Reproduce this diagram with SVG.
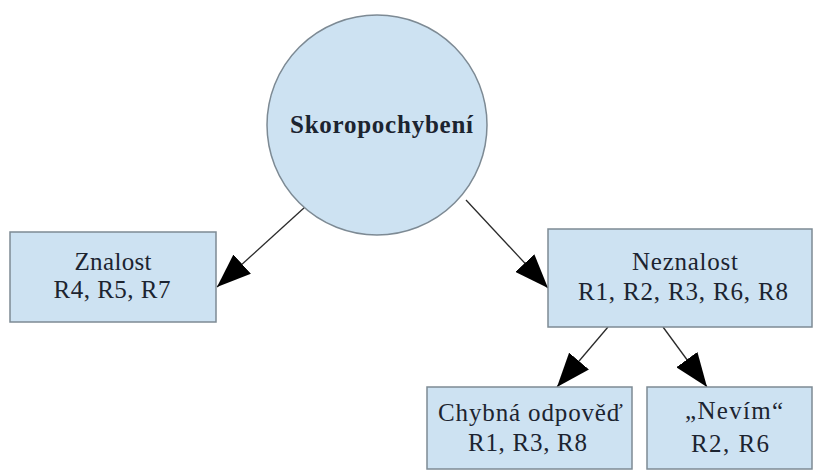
<svg xmlns="http://www.w3.org/2000/svg" width="814" height="471" viewBox="0 0 814 471">
  <style>
    .node { fill: #cde2f2; stroke: #7d8a94; stroke-width: 1.5; }
    .t { font-family: "Liberation Serif", "DejaVu Serif", "Times New Roman", serif; font-size: 25px; fill: #1c2430; text-anchor: middle; }
    .title { font-weight: bold; font-size: 25px; }
    .edge { stroke: #2a2a2a; stroke-width: 1.3; fill: none; marker-end: url(#arrow); }
  </style>
  <defs>
    <marker id="arrow" viewBox="0 0 34 26" refX="34" refY="13" markerWidth="34" markerHeight="26" markerUnits="userSpaceOnUse" orient="auto">
      <path d="M0,0 L34,13 L0,26 z" fill="#000"/>
    </marker>
  </defs>
  <rect x="0" y="0" width="814" height="471" fill="#ffffff"/>
  <g id="connectors">
    <line class="edge" x1="305" y1="207" x2="217" y2="287"/>
    <line class="edge" x1="466" y1="200" x2="548" y2="288"/>
    <line class="edge" x1="608" y1="327" x2="557" y2="387"/>
    <line class="edge" x1="663" y1="327" x2="707" y2="387"/>
  </g>
  <g id="skoropochybeni">
    <circle class="node" cx="377" cy="125" r="110"/>
    <text class="t title" x="381.5" y="133" textLength="183" lengthAdjust="spacing">Skoropochybení</text>
  </g>
  <g id="znalost">
    <rect class="node" x="10" y="232" width="206" height="90"/>
    <text class="t" x="113" y="270" textLength="77" lengthAdjust="spacing">Znalost</text>
    <text class="t" x="112" y="298" textLength="117" lengthAdjust="spacing">R4, R5, R7</text>
  </g>
  <g id="neznalost">
    <rect class="node" x="548" y="229" width="264" height="98"/>
    <text class="t" x="685" y="270" textLength="106" lengthAdjust="spacing">Neznalost</text>
    <text class="t" x="683" y="300" textLength="210" lengthAdjust="spacing">R1, R2, R3, R6, R8</text>
  </g>
  <g id="chybna">
    <rect class="node" x="427" y="387" width="205" height="82"/>
    <text class="t" x="530.5" y="421" textLength="185" lengthAdjust="spacing">Chybná odpověď</text>
    <text class="t" x="527.5" y="451" textLength="119" lengthAdjust="spacing">R1, R3, R8</text>
  </g>
  <g id="nevim">
    <rect class="node" x="647" y="387" width="165" height="82"/>
    <text class="t" x="734" y="419" textLength="98" lengthAdjust="spacing">„Nevím“</text>
    <text class="t" x="730" y="452" textLength="78" lengthAdjust="spacing">R2, R6</text>
  </g>
</svg>
